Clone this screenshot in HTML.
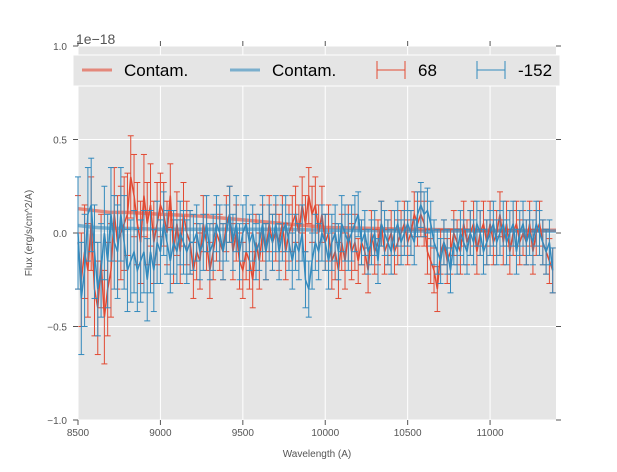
<!DOCTYPE html>
<html><head><meta charset="utf-8"><style>
body{margin:0;background:#fff;}
svg text{font-family:"Liberation Sans",sans-serif;}
</style></head><body>
<svg id="chart" width="617" height="467" xmlns="http://www.w3.org/2000/svg">
<rect x="78" y="46" width="478" height="374" fill="#E5E5E5"/>
<g id="grid"></g>
<g id="ticks"></g>
<g id="series"></g>
<text x="76" y="44" font-size="14" fill="#555">1e−18</text>
<text x="317" y="457" font-size="10" fill="#555" text-anchor="middle">Wavelength (A)</text>
<text x="32" y="233" font-size="10" fill="#555" text-anchor="middle" transform="rotate(-90 32 233)">Flux (erg/s/cm^2/A)</text>
<g>
<rect x="73" y="55" width="487" height="31" fill="#E5E5E5" stroke="#fff" stroke-width="1"/>
<line x1="82" y1="70" x2="112" y2="70" stroke="#E24A33" stroke-opacity="0.6" stroke-width="3"/>
<text x="124" y="76" font-size="17" fill="#000">Contam.</text>
<line x1="230" y1="70" x2="260" y2="70" stroke="#348ABD" stroke-opacity="0.6" stroke-width="3"/>
<text x="272" y="76" font-size="17" fill="#000">Contam.</text>
<g stroke="#E24A33" stroke-width="1">
<line x1="377" y1="70" x2="405" y2="70"/><line x1="377" y1="61" x2="377" y2="79"/><line x1="405" y1="61" x2="405" y2="79"/></g>
<text x="418" y="76" font-size="17" fill="#000">68</text>
<g stroke="#348ABD" stroke-width="1">
<line x1="477" y1="70" x2="505" y2="70"/><line x1="477" y1="61" x2="477" y2="79"/><line x1="505" y1="61" x2="505" y2="79"/></g>
<text x="518" y="76" font-size="17" fill="#000">-152</text>
</g>
</svg>
<script>
const xTicks=[8500,9000,9500,10000,10500,11000];
const yTicks=[-1.0,-0.5,0.0,0.5,1.0];
const yTickLabels=["−1.0","−0.5","0.0","0.5","1.0"];
const wavelengthStart=8500, wavelengthStep=20;
const redFlux=[-0.05,-0.25,-0.1,-0.2,0.05,-0.3,-0.4,-0.15,-0.45,-0.3,-0.2,0.1,-0.05,0.0,0.05,
0.1,0.3,0.2,0.05,-0.05,0.2,0.05,0.15,-0.05,0.05,
0.15,0.1,0.0,0.2,-0.1,0.05,-0.1,0.1,0.0,-0.05,
-0.2,-0.1,-0.15,0.05,-0.05,-0.2,-0.1,0.0,-0.05,-0.1,
0.05,0.1,-0.1,0.0,-0.15,-0.2,-0.1,-0.15,-0.25,-0.05,
-0.15,0.0,-0.1,0.05,-0.05,0.0,-0.05,0.05,-0.1,0.0,
0.05,0.1,0.0,0.15,0.05,0.2,0.1,0.15,0.0,0.1,
-0.05,0.0,-0.15,-0.1,-0.2,-0.05,-0.15,0.0,-0.1,-0.05,
-0.15,-0.05,-0.1,-0.2,0.0,-0.1,-0.05,0.05,-0.1,-0.05,
0.0,-0.1,-0.05,0.0,0.05,-0.05,0.0,0.1,0.05,0.1,
0.05,-0.1,-0.15,-0.2,-0.3,-0.1,-0.05,-0.15,-0.1,0.0,
-0.05,-0.1,0.05,-0.05,0.0,0.05,-0.1,0.0,0.05,-0.05,
0.05,-0.05,0.0,0.1,-0.05,0.05,-0.1,0.0,0.05,-0.05,
0.0,-0.05,0.05,-0.1,0.0,0.05,-0.05,-0.1,-0.15,-0.2];
const redErr=[0.25,0.25,0.25,0.25,0.25,0.25,0.25,0.25,0.25,0.25,0.25,0.25,0.25,0.25,0.25,
0.22,0.22,0.22,0.22,0.22,0.22,0.22,0.22,0.22,0.22,
0.17,0.17,0.17,0.17,0.17,0.17,0.17,0.17,0.17,0.17,
0.15,0.15,0.15,0.15,0.15,0.15,0.15,0.15,0.15,0.15,
0.15,0.15,0.15,0.15,0.15,0.15,0.15,0.15,0.15,0.15,
0.15,0.15,0.15,0.15,0.15,0.15,0.15,0.15,0.15,0.15,
0.15,0.15,0.15,0.15,0.15,0.15,0.15,0.15,0.15,0.15,
0.15,0.15,0.15,0.15,0.15,0.15,0.15,0.15,0.15,0.15,
0.12,0.12,0.12,0.12,0.12,0.12,0.12,0.12,0.12,0.12,
0.12,0.12,0.12,0.12,0.12,0.12,0.12,0.12,0.12,0.12,
0.12,0.12,0.12,0.12,0.12,0.12,0.12,0.12,0.12,0.12,
0.12,0.12,0.12,0.12,0.12,0.12,0.12,0.12,0.12,0.12,
0.12,0.12,0.12,0.12,0.12,0.12,0.12,0.12,0.12,0.12,
0.12,0.12,0.12,0.12,0.12,0.12,0.12,0.12,0.12,0.12];
const blueFlux=[0.0,-0.35,-0.2,0.1,0.15,-0.1,-0.3,-0.2,0.0,-0.15,0.1,-0.05,-0.1,0.1,-0.05,
-0.2,-0.15,-0.1,-0.2,-0.15,-0.1,-0.25,-0.1,-0.2,-0.05,
-0.1,0.05,-0.05,-0.15,-0.05,-0.1,0.0,-0.05,-0.1,-0.05,
-0.05,0.0,-0.1,-0.05,0.05,-0.1,-0.05,0.05,0.0,-0.1,
0.0,0.1,-0.05,0.05,-0.1,0.0,0.05,-0.05,0.0,-0.1,
-0.05,0.05,-0.1,0.0,-0.05,0.05,-0.1,0.0,0.05,-0.05,
-0.15,-0.05,-0.1,0.0,-0.25,-0.3,-0.15,-0.05,-0.1,0.0,
-0.05,-0.15,-0.05,0.0,-0.1,0.05,0.0,-0.05,0.0,0.05,
0.1,-0.05,0.0,-0.1,-0.05,0.0,-0.15,0.05,0.0,-0.05,
-0.1,0.0,0.05,-0.05,0.0,0.05,0.0,-0.05,0.1,0.15,
0.1,0.12,0.05,-0.05,-0.1,-0.15,-0.05,-0.1,-0.2,-0.05,
-0.1,0.0,-0.05,-0.1,0.0,-0.05,0.05,0.0,-0.1,-0.05,
0.0,0.05,-0.05,0.0,0.05,-0.05,0.0,0.05,-0.1,0.0,
0.05,-0.05,0.0,-0.05,0.05,0.0,-0.05,-0.1,-0.05,-0.2];
const blueErr=[0.3,0.3,0.3,0.25,0.25,0.25,0.25,0.25,0.25,0.25,0.25,0.25,0.25,0.25,0.25,
0.22,0.22,0.22,0.22,0.22,0.22,0.22,0.22,0.22,0.22,
0.17,0.17,0.17,0.17,0.17,0.17,0.17,0.17,0.17,0.17,
0.15,0.15,0.15,0.15,0.15,0.15,0.15,0.15,0.15,0.15,
0.15,0.15,0.15,0.15,0.15,0.15,0.15,0.15,0.15,0.15,
0.15,0.15,0.15,0.15,0.15,0.15,0.15,0.15,0.15,0.15,
0.15,0.15,0.15,0.15,0.15,0.15,0.15,0.15,0.15,0.15,
0.15,0.15,0.15,0.15,0.15,0.15,0.15,0.15,0.15,0.15,
0.12,0.12,0.12,0.12,0.12,0.12,0.12,0.12,0.12,0.12,
0.12,0.12,0.12,0.12,0.12,0.12,0.12,0.12,0.12,0.12,
0.12,0.12,0.12,0.12,0.12,0.12,0.12,0.12,0.12,0.12,
0.12,0.12,0.12,0.12,0.12,0.12,0.12,0.12,0.12,0.12,
0.12,0.12,0.12,0.12,0.12,0.12,0.12,0.12,0.12,0.12,
0.12,0.12,0.12,0.12,0.12,0.12,0.12,0.12,0.12,0.12];
const contamWave=[8500,8600,8700,8800,9000,9250,9500,9750,10000,10500,11000,11400];
const contamRed=[0.13,0.12,0.11,0.11,0.1,0.09,0.07,0.05,0.03,0.02,0.015,0.015];
const contamBlue=[0.04,0.03,0.025,0.025,0.02,0.02,0.02,0.02,0.015,0.01,0.01,0.01];

const X0=78,X1=556,Y0=46,Y1=420;
const xmin=8500,xmax=11400;
const sx=v=>X0+(v-xmin)/(xmax-xmin)*(X1-X0);
const sy=v=>Y0+(1-v)/2*(Y1-Y0);
const NS="http://www.w3.org/2000/svg";
function mk(tag,attrs,parent){const e=document.createElementNS(NS,tag);for(const k in attrs)e.setAttribute(k,attrs[k]);parent.appendChild(e);return e;}
const grid=document.getElementById('grid'),ticks=document.getElementById('ticks'),ser=document.getElementById('series');
xTicks.forEach(t=>{const x=sx(t);
 const g=mk('line',{x1:x,y1:Y0,x2:x,y2:Y1,stroke:'#fff','stroke-width':1},grid);
 
 
 mk('line',{x1:x,y1:Y1,x2:x,y2:Y1+5,stroke:'#555'},ticks);
 mk('line',{x1:x,y1:Y0,x2:x,y2:Y0-5,stroke:'#555'},ticks);
 const tx=mk('text',{x:x,y:Y1+16,'font-size':10,fill:'#555','text-anchor':'middle'},ticks);
 tx.textContent=t;
 
 
});
yTicks.forEach((t,i)=>{const y=sy(t);
 const g=mk('line',{x1:X0,y1:y,x2:X1,y2:y,stroke:'#fff','stroke-width':1},grid);
 
 
 mk('line',{x1:X0-5,y1:y,x2:X0,y2:y,stroke:'#555'},ticks);
 mk('line',{x1:X1,y1:y,x2:X1+5,y2:y,stroke:'#555'},ticks);
 const tx=mk('text',{x:X0-11,y:y+4,'font-size':10,fill:'#555','text-anchor':'end'},ticks);
 tx.textContent=yTickLabels[i];
 
 
});
function contam(vals,color,name){
 const pts=contamWave.map((w,i)=>sx(w)+','+sy(vals[i])).join(' ');
 const p=mk('polyline',{points:pts,fill:'none',stroke:color,'stroke-opacity':0.6,'stroke-width':3.5},ser);
 
 
}
function errSeries(vals,errs,color,name){
 const g=mk('g',{stroke:color,'stroke-width':1,fill:'none'},ser);
 
 
 vals.forEach((v,i)=>{const x=sx(wavelengthStart+i*wavelengthStep);
  const yt=sy(v+errs[i]),yb=sy(v-errs[i]);
  mk('line',{x1:x,y1:yt,x2:x,y2:yb},g);
  mk('line',{x1:x-3,y1:yt,x2:x+3,y2:yt},g);
  mk('line',{x1:x-3,y1:yb,x2:x+3,y2:yb},g);
 });
 const pts=vals.map((v,i)=>sx(wavelengthStart+i*wavelengthStep)+','+sy(v)).join(' ');
 mk('polyline',{points:pts,'stroke-width':1.5},g);
}
contam(contamRed,'#E24A33','contam-line-68');
contam(contamBlue,'#348ABD','contam-line-152');
errSeries(redFlux,redErr,'#E24A33','series-68');
errSeries(blueFlux,blueErr,'#348ABD','series-152');
</script>
</body></html>
